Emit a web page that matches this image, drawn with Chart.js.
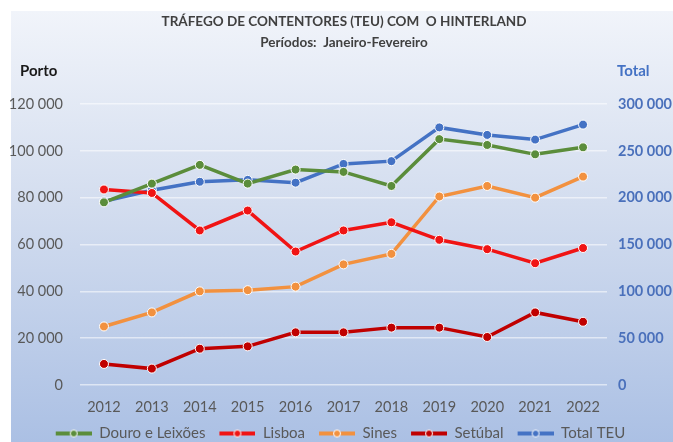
<!DOCTYPE html>
<html>
<head>
<meta charset="utf-8">
<script src="https://cdn.jsdelivr.net/npm/chart.js@4"></script>
<style>
  body { margin: 0; background: #fff; }
  #chart { display: block; }
</style>
</head>
<body>
<canvas id="chart" width="673" height="442"></canvas>
<script>
// data (TEU, Jan-Feb of each year)
const years = ['2012', '2013', '2014', '2015', '2016', '2017', '2018', '2019', '2020', '2021', '2022'];
const douroLeixoes = [78000, 86000, 94000, 86000, 92000, 91000, 85000, 105000, 102500, 98500, 101500];
const lisboa = [83500, 82000, 66000, 74500, 57000, 66000, 69500, 62000, 58000, 52000, 58500];
const sines = [25000, 31000, 40000, 40500, 42000, 51500, 56000, 80500, 85000, 80000, 89000];
const setubal = [9000, 7000, 15500, 16500, 22500, 22500, 24500, 24500, 20500, 31000, 27000];
const totalTEU = [196000, 208000, 217000, 219000, 216000, 236000, 239000, 275000, 267000, 262000, 278000];

const FONT = 'Lato, "Open Sans", sans-serif';
const GREY = '#595959';
const BLUE_TXT = '#4a70bb';

function fmt(v) {
    return String(v).replace(/\B(?=(\d{3})+(?!\d))/g, ' ');
}

// small line-with-dot icon for the legend (leading gap built in)
function legendIcon(color) {
    const c = document.createElement('canvas');
    c.width = 44;
    c.height = 10;
    const g = c.getContext('2d');
    g.strokeStyle = color;
    g.lineWidth = 4;
    g.beginPath();
    g.moveTo(8, 5);
    g.lineTo(44, 5);
    g.stroke();
    g.beginPath();
    g.arc(26, 5, 3.5, 0, Math.PI * 2);
    g.fillStyle = color;
    g.fill();
    g.lineWidth = 1;
    g.strokeStyle = '#ffffff';
    g.stroke();
    return c;
}

function series(label, data, color, axis) {
    return {
        label: label,
        data: data,
        yAxisID: axis,
        borderColor: color,
        backgroundColor: color,
        borderWidth: 3.5,
        pointRadius: 4.5,
        pointHoverRadius: 4.5,
        pointBorderColor: '#ffffff',
        pointBorderWidth: 1,
        pointBackgroundColor: color,
        tension: 0,
        icon: legendIcon(color)
    };
}

// gradient background, like the spreadsheet chart area
const background = {
    id: 'background',
    beforeDraw(chart) {
        const ctx = chart.ctx;
        ctx.save();
        ctx.fillStyle = '#ffffff';
        ctx.fillRect(0, 0, chart.width, chart.height);
        const grad = ctx.createLinearGradient(0, 11, 0, chart.height);
        grad.addColorStop(0, '#f1f4fa');
        grad.addColorStop(0.45, '#d3ddef');
        grad.addColorStop(1, '#abc0e4');
        ctx.fillStyle = grad;
        ctx.fillRect(11, 11, chart.width - 11, chart.height - 11);
        ctx.restore();
    }
};

// titles and axis captions
const captions = {
    id: 'captions',
    afterDraw(chart) {
        const ctx = chart.ctx;
        ctx.save();
        ctx.textBaseline = 'middle';
        ctx.textAlign = 'center';
        ctx.fillStyle = '#404040';
        ctx.font = 'bold 13.5px ' + FONT;
        ctx.fillText('TRÁFEGO DE CONTENTORES (TEU) COM  O HINTERLAND', 344, 22);
        ctx.fillText('Períodos:  Janeiro-Fevereiro', 344, 43);
        ctx.font = 'bold 15px ' + FONT;
        ctx.textAlign = 'left';
        ctx.fillStyle = '#1a1a1a';
        ctx.fillText('Porto', 20, 71);
        ctx.fillStyle = '#4472c4';
        ctx.fillText('Total', 617, 71);
        ctx.restore();
    }
};

const ctx = document.getElementById('chart').getContext('2d');
new Chart(ctx, {
    type: 'line',
    data: {
        labels: years,
        datasets: [
            series('Douro e Leixões', douroLeixoes, '#5b8d3b', 'y'),
            series('Lisboa', lisboa, '#f01414', 'y'),
            series('Sines', sines, '#f2913f', 'y'),
            series('Setúbal', setubal, '#c00000', 'y'),
            series('Total TEU', totalTEU, '#4472c4', 'y1')
        ]
    },
    options: {
        responsive: false,
        animation: false,
        layout: { padding: { top: 104, left: 0, right: 0, bottom: -9 } },
        plugins: {
            legend: {
                position: 'bottom',
                labels: {
                    usePointStyle: true,
                    pointStyleWidth: 44,
                    boxHeight: 10,
                    padding: 6,
                    color: GREY,
                    font: { family: FONT, size: 15 },
                    generateLabels(chart) {
                        return chart.data.datasets.map((ds, i) => ({
                            text: ds.label,
                            pointStyle: ds.icon,
                            fillStyle: ds.borderColor,
                            strokeStyle: ds.borderColor,
                            fontColor: GREY,
                            lineWidth: 0,
                            hidden: false,
                            datasetIndex: i
                        }));
                    }
                }
            },
            tooltip: { enabled: false }
        },
        scales: {
            x: {
                offset: true,
                grid: { display: false, drawTicks: false },
                border: { display: false },
                ticks: { color: GREY, font: { family: FONT, size: 14.5 }, padding: 14 },
                afterFit(scale) { scale.height = 35; }
            },
            y: {
                position: 'left',
                min: 0,
                max: 120000,
                grid: { color: 'rgba(255,255,255,0.55)', lineWidth: 1.5, drawTicks: false },
                border: { display: false },
                ticks: {
                    stepSize: 20000,
                    padding: 17,
                    color: GREY,
                    font: { family: FONT, size: 14.5 },
                    callback: v => fmt(v)
                },
                afterFit(scale) { scale.width = 80; }
            },
            y1: {
                position: 'right',
                min: 0,
                max: 300000,
                grid: { display: false, drawTicks: false },
                border: { display: false },
                ticks: {
                    stepSize: 50000,
                    padding: 11,
                    color: BLUE_TXT,
                    font: { family: FONT, size: 14.5, weight: 'bold' },
                    callback: v => fmt(v)
                },
                afterFit(scale) { scale.width = 66; }
            }
        }
    },
    plugins: [background, captions]
});
</script>
</body>
</html>
